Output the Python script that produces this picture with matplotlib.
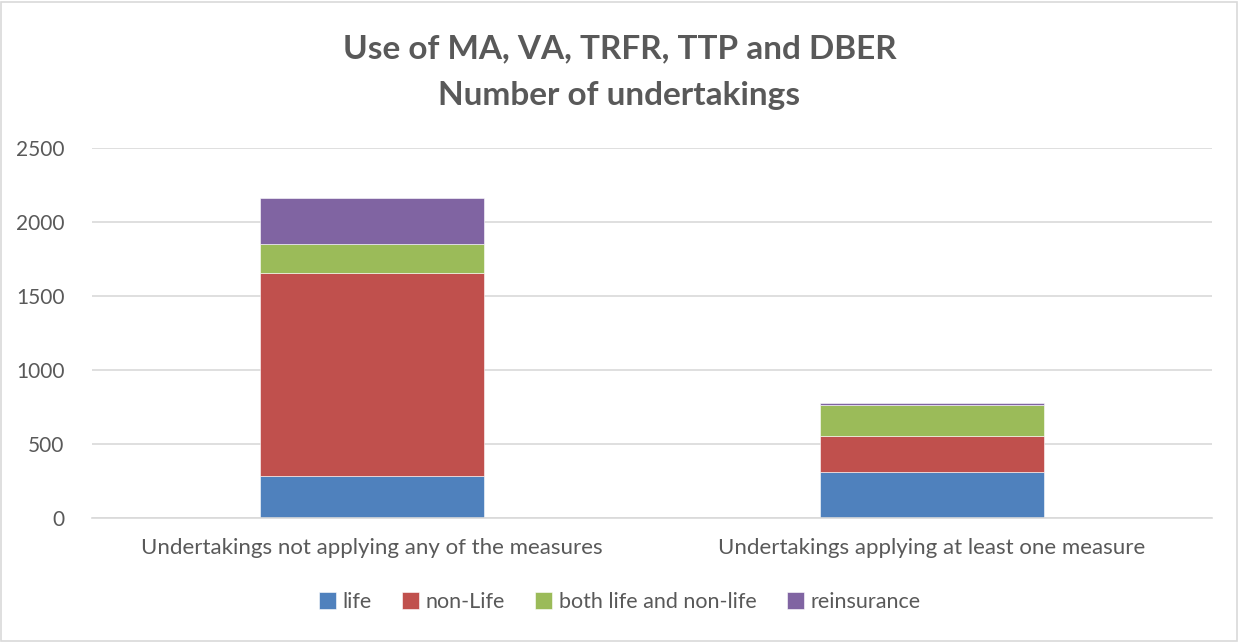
import matplotlib.pyplot as plt
from matplotlib.patches import Rectangle

categories = ['Undertakings not applying any of the measures',
              'Undertakings applying at least one measure']
life = [287, 309]
non_life = [1368, 249]
both = [196, 207]
reinsurance = [311, 16]

series_names = ['life', 'non-Life', 'both life and non-life', 'reinsurance']
series_colors = ['#4F81BD', '#C0504D', '#9BBB59', '#8064A2']
yticks = [0, 500, 1000, 1500, 2000, 2500]

text_color = '#595959'
grid_color = '#D9D9D9'
plt.rcParams['font.family'] = ['Lato', 'DejaVu Sans']

fig = plt.figure(figsize=(12.39, 6.42), dpi=100)
ax = fig.add_axes([0.0743, 0.193, 0.9037, 0.576])

x = list(range(len(categories)))
bottom = [0] * len(categories)
for values, name, color in zip([life, non_life, both, reinsurance], series_names, series_colors):
    ax.bar(x, values, width=0.4, bottom=bottom, color=color, label=name,
           edgecolor='white', linewidth=0.4)
    bottom = [b + v for b, v in zip(bottom, values)]

ax.set_xlim(-0.5, 1.5)
ax.set_ylim(0, 2500)
ax.set_yticks(yticks)
ax.set_xticks(x)
ax.set_xticklabels(categories)
ax.tick_params(axis='both', length=0, colors=text_color)
ax.tick_params(axis='x', pad=14, labelsize=16)
ax.tick_params(axis='y', pad=20, labelsize=15)
ax.yaxis.grid(True, color=grid_color, linewidth=1.2)
ax.set_axisbelow(True)
for side in ['top', 'right', 'left']:
    ax.spines[side].set_visible(False)
ax.spines['bottom'].set_color(grid_color)
ax.spines['bottom'].set_linewidth(1.2)

fig.text(0.5, 0.924, 'Use of MA, VA, TRFR, TTP and DBER', ha='center', va='center',
         fontsize=24, fontweight='bold', color=text_color)
fig.text(0.5, 0.851, 'Number of undertakings', ha='center', va='center',
         fontsize=24, fontweight='bold', color=text_color)

fig.legend(loc='center', bbox_to_anchor=(0.5, 0.062), ncol=4, frameon=False,
           fontsize=15.5, labelcolor=text_color, handlelength=0.8, handleheight=0.8,
           handletextpad=0.3, columnspacing=1.4)

fig.patches.append(Rectangle((0.001, 0.002), 0.997, 0.995, transform=fig.transFigure,
                             fill=False, edgecolor=grid_color, linewidth=1.2))

fig.savefig('out.png', dpi=100)
